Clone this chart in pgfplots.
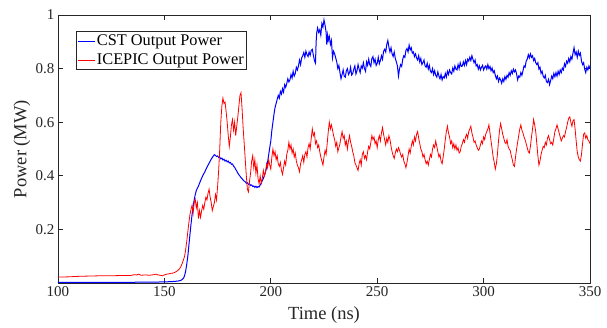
\documentclass[border=0pt]{standalone}
\usepackage{pgfplots}
\pgfplotsset{compat=1.18}
\usepackage{fontspec}
\setmainfont{Liberation Serif}
\definecolor{axgray}{gray}{0.15}
\begin{document}
\begin{tikzpicture}
\begin{axis}[
  scale only axis, width=532pt, height=268pt,
  xmin=100, xmax=350, ymin=0, ymax=1,
  xtick={100,150,...,350}, ytick={0.2,0.4,0.6,0.8,1},
  /pgf/number format/assume math mode=true,
  tick align=inside, major tick length=5pt,
  axis line style={axgray, line width=0.8pt},
  tick style={axgray, line width=0.8pt},
  ticklabel style={font=\fontsize{15}{18}\selectfont, text=axgray},
  label style={font=\fontsize{18.5}{22}\selectfont, text=axgray},
  xlabel={Time (ns)}, ylabel={Power (MW)},
  xlabel style={at={(axis description cs:0.5,-0.119)}, anchor=center},
  ylabel style={at={(axis description cs:-0.0677,0.5)}, anchor=center, rotate=0},
  legend style={at={(axis description cs:0.0338,0.94)}, anchor=north west,
    draw=axgray, line width=0.6pt, font=\fontsize{16.3}{18}\selectfont,
    inner xsep=1.5pt, inner ysep=2.5pt, row sep=4pt, nodes={inner sep=1.2pt}},
  legend cell align=left,
  legend image code/.code={\draw[#1] (0pt,0pt) -- (17pt,0pt);},
]
\addplot[blue, line width=1pt] coordinates {
(100,0.002)(120,0.002)(140,0.003)(150,0.004)(155,0.006)(157,0.008)(158,0.011)(159,0.018)(159.5,0.028)(160,0.045)(160.5,0.07)(161,0.10)(161.5,0.14)(162,0.18)(162.5,0.22)(163,0.255)(163.5,0.285)(164,0.31)(164.5,0.33)(165,0.345)(166,0.362)(167,0.382)(168,0.40)(169,0.415)(170,0.432)(171,0.447)(172,0.462)(173,0.474)(173.5,0.479)(174,0.476)(174.5,0.472)(175,0.474)(175.5,0.468)(176,0.470)(176.5,0.463)(177,0.466)(177.5,0.459)(178,0.462)(178.5,0.455)(179,0.458)(179.5,0.452)(180,0.455)(180.5,0.448)(181,0.450)(181.5,0.443)(182,0.444)(182.5,0.436)(183,0.432)(183.5,0.424)(184,0.418)(184.5,0.410)(185,0.404)(185.5,0.399)(186,0.393)(186.5,0.389)(187,0.384)(187.5,0.380)(188,0.378)(188.5,0.372)(189,0.374)(189.5,0.368)(190,0.370)(190.5,0.364)(191,0.366)(191.5,0.360)(192,0.362)(192.5,0.357)(193,0.361)(193.5,0.356)(194,0.360)(194.5,0.358)(195,0.366)(195.5,0.372)(196,0.382)(196.5,0.390)(197,0.402)(197.5,0.415)(198,0.430)(198.5,0.452)(199,0.478)(199.5,0.505)
(200,0.53)(200.5,0.57)(201,0.60)(201.5,0.63)(202,0.655)(202.5,0.67)(203,0.685)(203.5,0.70)(204,0.69)(204.5,0.715)(205,0.705)(205.5,0.725)(206,0.712)(206.5,0.74)(207,0.73)(207.5,0.745)(208,0.762)(208.5,0.75)(209,0.758)(209.5,0.778)(210,0.765)(210.5,0.79)(211,0.772)(211.5,0.782)(212,0.805)(212.5,0.795)(213,0.81)(213.5,0.832)(214,0.815)(214.5,0.84)(215,0.848)(215.5,0.86)(216,0.842)(216.5,0.865)(217,0.852)(217.5,0.845)(218,0.862)(218.5,0.85)(219,0.868)(219.5,0.872)(220,0.85)(220.5,0.83)(221,0.82)(221.3,0.90)(221.6,0.935)(222,0.952)(222.5,0.935)(223,0.945)(223.5,0.925)(224,0.968)(224.5,0.955)(225,0.982)(225.5,0.962)(226,0.935)(226.3,0.89)(226.7,0.925)(227,0.905)(227.5,0.92)(228,0.89)(228.5,0.905)(229,0.84)(229.5,0.865)
(230,0.855)(230.5,0.84)(231,0.825)(231.5,0.80)(232,0.812)(232.5,0.785)(233,0.762)(233.5,0.778)(234,0.795)(234.5,0.772)(235,0.768)(235.5,0.792)(236,0.80)(236.5,0.778)(237,0.785)(237.5,0.805)(238,0.776)(238.5,0.782)(239,0.798)(239.5,0.81)(240,0.78)(240.5,0.792)(241,0.815)(241.5,0.798)(242,0.785)(242.5,0.81)(243,0.802)(243.5,0.822)(244,0.80)(244.5,0.79)(245,0.825)(245.5,0.812)(246,0.835)(246.5,0.815)(247,0.808)(247.5,0.838)(248,0.845)(248.5,0.822)(249,0.835)(249.5,0.812)(250,0.82)(250.5,0.842)(251,0.818)(251.5,0.83)(252,0.848)(252.5,0.835)(253,0.865)(253.5,0.872)(254,0.862)(254.5,0.89)(255,0.905)(255.5,0.88)(256,0.862)(256.5,0.878)(257,0.855)(257.5,0.845)(258,0.862)(258.5,0.838)(259,0.825)(259.5,0.81)(260,0.772)(260.5,0.80)(261,0.815)(261.5,0.808)(262,0.835)(262.5,0.848)(263,0.842)(263.5,0.868)(264,0.875)(264.5,0.862)(265,0.888)(265.5,0.87)(266,0.878)(266.5,0.858)(267,0.862)(267.5,0.845)(268,0.855)(268.5,0.84)(269,0.832)(269.5,0.848)(270,0.825)(270.5,0.838)(271,0.815)(271.5,0.822)(272,0.832)(272.5,0.81)(273,0.805)(273.5,0.82)(274,0.798)(274.5,0.812)(275,0.79)(275.5,0.785)(276,0.80)(276.5,0.778)(277,0.792)(277.5,0.775)(278,0.768)(278.5,0.788)(279,0.772)(279.5,0.762)(280,0.778)(280.5,0.758)(281,0.77)(281.5,0.765)(282,0.782)(282.5,0.768)(283,0.79)(283.5,0.778)(284,0.795)(284.5,0.785)(285,0.78)(285.5,0.802)(286,0.79)(286.5,0.81)(287,0.798)(287.5,0.795)(288,0.815)(288.5,0.80)(289,0.822)(289.5,0.808)(290,0.81)(290.5,0.825)(291,0.812)(291.5,0.83)(292,0.815)(292.5,0.835)(293,0.828)(293.5,0.842)(294,0.83)(294.5,0.848)(295,0.835)(295.5,0.822)(296,0.832)(296.5,0.81)(297,0.815)(297.5,0.798)(298,0.81)(298.5,0.795)(299,0.805)(299.5,0.812)(300,0.795)(300.5,0.805)(301,0.81)(301.5,0.798)(302,0.815)(302.5,0.80)(303,0.808)(303.5,0.792)(304,0.802)(304.5,0.785)(305,0.792)(305.5,0.775)(306,0.762)(306.5,0.772)(307,0.752)(307.5,0.765)(308,0.758)(308.5,0.745)(309,0.762)(309.5,0.752)(310,0.77)(310.5,0.76)(311,0.775)(311.5,0.768)(312,0.785)(312.5,0.775)(313,0.792)(313.5,0.782)(314,0.798)(314.5,0.788)(315,0.795)(315.5,0.78)(316,0.758)(316.5,0.772)(317,0.768)(317.5,0.785)(318,0.775)(318.5,0.792)(319,0.81)(319.5,0.805)(320,0.828)(320.5,0.835)(321,0.852)(321.5,0.84)(322,0.855)(322.5,0.842)(323,0.848)(323.5,0.83)(324,0.838)(324.5,0.822)(325,0.815)(325.5,0.822)(326,0.798)(326.5,0.805)(327,0.782)(327.5,0.79)(328,0.772)(328.5,0.765)(329,0.775)(329.5,0.752)(330,0.748)(330.5,0.76)(331,0.74)(331.5,0.755)(332,0.772)(332.5,0.762)(333,0.782)(333.5,0.77)(334,0.785)(334.5,0.772)(335,0.79)(335.5,0.778)(336,0.795)(336.5,0.785)(337,0.802)(337.5,0.795)(338,0.818)(338.5,0.808)(339,0.828)(339.5,0.82)(340,0.838)(340.5,0.825)(341,0.845)(341.5,0.835)(342,0.858)(342.5,0.878)(343,0.852)(343.5,0.862)(344,0.842)(344.5,0.865)(345,0.85)(345.5,0.858)(346,0.828)(346.5,0.815)(347,0.822)(347.5,0.798)(348,0.785)(348.5,0.805)(349,0.795)(349.5,0.81)(350,0.80)
};
\addlegendentry{CST Output Power}
\addplot[red, line width=0.8pt] coordinates {
(100,0.022)(105,0.023)(110,0.025)(115,0.026)(120,0.027)(125,0.027)(130,0.028)(134,0.028)(136,0.031)(137,0.030)(138,0.033)(139,0.029)(141,0.030)(143,0.029)(145,0.031)(146,0.033)(147,0.030)(148,0.029)(149,0.027)(150,0.030)(151,0.033)(152,0.034)(153,0.036)(154,0.037)(155,0.040)(156,0.045)(157,0.052)(157.5,0.058)(158,0.066)(158.5,0.076)(159,0.088)(159.5,0.10)(160,0.125)(160.5,0.155)(161,0.19)(161.5,0.225)(162,0.255)(162.5,0.275)(163,0.29)(163.5,0.26)(164,0.30)(164.5,0.312)(165,0.28)(165.5,0.30)(166,0.24)(166.5,0.27)(167,0.245)(167.5,0.27)(168,0.29)(168.5,0.275)(169,0.30)(169.5,0.32)(170,0.31)(170.5,0.335)(171,0.35)(171.5,0.32)(172,0.30)(172.5,0.27)(173,0.285)(173.5,0.30)(174,0.33)(174.5,0.31)(175,0.36)(175.5,0.42)(176,0.50)(176.5,0.60)(177,0.66)(177.5,0.69)(178,0.67)(178.5,0.675)(179,0.64)(179.5,0.60)(180,0.55)(180.5,0.51)(181,0.545)(181.5,0.59)(182,0.61)(182.5,0.57)(183,0.60)(183.5,0.55)(184,0.585)(184.5,0.62)(185,0.66)(185.5,0.70)(186,0.71)(186.5,0.65)(187,0.58)(187.5,0.52)(188,0.46)(188.5,0.40)(189,0.35)(189.5,0.34)(190,0.38)(190.5,0.41)(191,0.455)(191.5,0.475)(192,0.43)(192.5,0.46)(193,0.41)(193.5,0.44)(194,0.39)(194.5,0.37)(195,0.40)(195.5,0.372)(196,0.39)(196.5,0.42)(197,0.40)(197.5,0.412)(198,0.445)(198.5,0.43)(199,0.46)(199.5,0.44)
(200,0.425)(200.5,0.47)(201,0.50)(201.5,0.475)(202,0.49)(202.5,0.46)(203,0.475)(203.5,0.445)(204,0.435)(204.5,0.45)(205,0.42)(205.5,0.405)(206,0.43)(206.5,0.455)(207,0.44)(207.5,0.48)(208,0.495)(208.5,0.525)(209,0.50)(209.5,0.515)(210,0.485)(210.5,0.50)(211,0.47)(211.5,0.485)(212,0.455)(212.5,0.44)(213,0.43)(213.5,0.415)(214,0.445)(214.5,0.46)(215,0.475)(215.5,0.45)(216,0.48)(216.5,0.49)(217,0.47)(217.5,0.505)(218,0.52)(218.5,0.50)(219,0.54)(219.5,0.575)(220,0.55)(220.5,0.56)(221,0.52)(221.5,0.53)(222,0.505)(222.5,0.515)(223,0.49)(223.5,0.47)(224,0.455)(224.5,0.44)(225,0.47)(225.5,0.495)(226,0.48)(226.5,0.52)(227,0.565)(227.5,0.60)(228,0.575)(228.5,0.59)(229,0.57)(229.5,0.55)(230,0.535)(230.5,0.51)(231,0.525)(231.5,0.49)(232,0.505)(232.5,0.52)(233,0.545)(233.5,0.565)(234,0.54)(234.5,0.55)(235,0.515)(235.5,0.53)(236,0.50)(236.5,0.53)(237,0.55)(237.5,0.525)(238,0.51)(238.5,0.49)(239,0.475)(239.5,0.45)(240,0.44)(240.5,0.43)(241,0.42)(241.5,0.445)(242,0.46)(242.5,0.44)(243,0.48)(243.5,0.49)(244,0.465)(244.5,0.475)(245,0.46)(245.5,0.49)(246,0.51)(246.5,0.50)(247,0.525)(247.5,0.55)(248,0.535)(248.5,0.545)(249,0.52)(249.5,0.53)(250,0.505)(250.5,0.535)(251,0.55)(251.5,0.53)(252,0.56)(252.5,0.58)(253,0.555)(253.5,0.535)(254,0.515)(254.5,0.54)(255,0.525)(255.5,0.55)(256,0.535)(256.5,0.51)(257,0.49)(257.5,0.475)(258,0.465)(258.5,0.485)(259,0.50)(259.5,0.49)(260,0.505)(260.5,0.495)(261,0.48)(261.5,0.47)(262,0.48)(262.5,0.455)(263,0.445)(263.5,0.43)(264,0.45)(264.5,0.475)(265,0.50)(265.5,0.485)(266,0.51)(266.5,0.53)(267,0.515)(267.5,0.545)(268,0.53)(268.5,0.555)(269,0.565)(269.5,0.54)(270,0.52)(270.5,0.50)(271,0.49)(271.5,0.47)(272,0.48)(272.5,0.46)(273,0.445)(273.5,0.455)(274,0.44)(274.5,0.46)(275,0.48)(275.5,0.47)(276,0.50)(276.5,0.515)(277,0.505)(277.5,0.53)(278,0.51)(278.5,0.49)(279,0.47)(279.5,0.48)(280,0.455)(280.5,0.445)(281,0.47)(281.5,0.50)(282,0.535)(282.5,0.565)(283,0.585)(283.5,0.56)(284,0.545)(284.5,0.52)(285,0.53)(285.5,0.505)(286,0.52)(286.5,0.50)(287,0.515)(287.5,0.495)(288,0.505)(288.5,0.485)(289,0.49)(289.5,0.51)(290,0.52)(290.5,0.535)(291,0.525)(291.5,0.545)(292,0.555)(292.5,0.54)(293,0.565)(293.5,0.575)(294,0.585)(294.5,0.56)(295,0.545)(295.5,0.525)(296,0.53)(296.5,0.515)(297,0.505)(297.5,0.495)(298,0.50)(298.5,0.515)(299,0.53)(299.5,0.52)(300,0.545)(300.5,0.535)(301,0.555)(301.5,0.565)(302,0.575)(302.5,0.59)(303,0.56)(303.5,0.53)(304,0.50)(304.5,0.47)(305,0.45)(305.5,0.425)(306,0.445)(306.5,0.48)(307,0.53)(307.5,0.57)(308,0.595)(308.5,0.575)(309,0.555)(309.5,0.54)(310,0.525)(310.5,0.52)(311,0.535)(311.5,0.51)(312,0.50)(312.5,0.495)(313,0.475)(313.5,0.46)(314,0.44)(314.5,0.435)(315,0.47)(315.5,0.50)(316,0.525)(316.5,0.55)(317,0.575)(317.5,0.59)(318,0.57)(318.5,0.56)(319,0.545)(319.5,0.535)(320,0.52)(320.5,0.505)(321,0.49)(321.5,0.485)(322,0.51)(322.5,0.545)(323,0.575)(323.5,0.61)(324,0.59)(324.5,0.565)(325,0.52)(325.5,0.475)(326,0.44)(326.5,0.455)(327,0.48)(327.5,0.495)(328,0.51)(328.5,0.505)(329,0.525)(329.5,0.515)(330,0.54)(330.5,0.55)(331,0.535)(331.5,0.52)(332,0.525)(332.5,0.515)(333,0.54)(333.5,0.565)(334,0.575)(334.5,0.59)(335,0.575)(335.5,0.56)(336,0.545)(336.5,0.53)(337,0.54)(337.5,0.55)(338,0.545)(338.5,0.565)(339,0.58)(339.5,0.60)(340,0.615)(340.5,0.62)(341,0.60)(341.5,0.585)(342,0.605)(342.5,0.61)(343,0.575)(343.5,0.53)(344,0.49)(344.5,0.47)(345,0.46)(345.5,0.455)(346,0.48)(346.5,0.52)(347,0.555)(347.5,0.56)(348,0.54)(348.5,0.55)(349,0.535)(349.5,0.53)(350,0.52)
};
\addlegendentry{ICEPIC Output Power}
\end{axis}
\path (-58pt,-44pt) rectangle (549pt,283pt);
\end{tikzpicture}
\end{document}
